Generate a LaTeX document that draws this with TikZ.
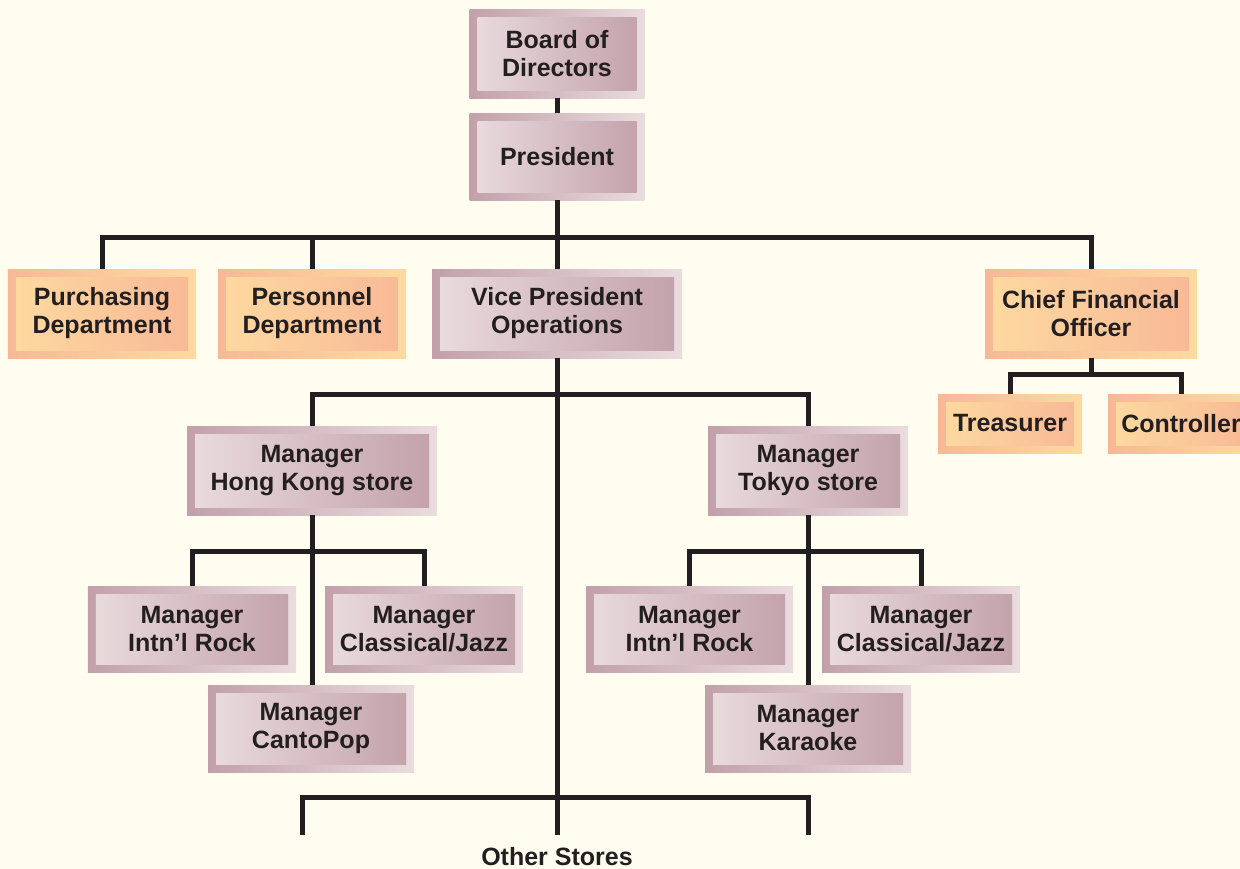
\documentclass[tikz,border=0pt]{standalone}
\usepackage{fontspec}
\setmainfont{Liberation Sans}
\usetikzlibrary{calc,positioning}
\definecolor{bgcream}{RGB}{255,253,240}
\definecolor{inkdark}{RGB}{35,31,32}
\definecolor{mauveDark}{RGB}{194,160,170}
\definecolor{mauveLight}{RGB}{234,220,222}
\definecolor{peachDark}{RGB}{248,184,150}
\definecolor{peachLight}{RGB}{253,218,160}

\begin{document}
\begin{tikzpicture}[x=1bp,y=-1bp,
  link/.style = {draw=inkdark, line width=5bp},
  mauvebox/.style = {inner sep=0pt, align=center, text=inkdark,
    font=\fontsize{25bp}{28bp}\selectfont\bfseries,
    left color=mauveDark, right color=mauveLight,
    path picture={\shade[left color=mauveLight, right color=mauveDark]
      ($(path picture bounding box.north west)+(8,8)$) rectangle
      ($(path picture bounding box.south east)+(-8,-8)$);}},
  peachbox/.style = {mauvebox, left color=peachDark, right color=peachLight,
    path picture={\shade[left color=peachLight, right color=peachDark]
      ($(path picture bounding box.north west)+(8,8)$) rectangle
      ($(path picture bounding box.south east)+(-8,-8)$);}},
]
\useasboundingbox (0,0) rectangle (1240,869);
\fill[bgcream] (0,0) rectangle (1240,869);

%Top of the company
\node (board) at (557,54) [mauvebox, minimum width=175bp, minimum height=88bp] {Board of\\Directors};
\node (pres) at (557,156.5) [mauvebox, minimum width=175bp, minimum height=87bp] {President};

%Second level
\node (purch) at (102,313.5) [peachbox, minimum width=188bp, minimum height=89bp] {Purchasing\\Department};
\node (pers) at (312,313.5) [peachbox, minimum width=188bp, minimum height=89bp] {Personnel\\Department};
\node (vp) at (557,313.5) [mauvebox, minimum width=250bp, minimum height=89bp] {Vice President\\Operations};
\node (cfo) at (1091,313.5) [peachbox, minimum width=212bp, minimum height=89bp] {Chief Financial\\Officer};
\node (treas) at (1010,423.5) [peachbox, minimum width=144bp, minimum height=59bp] {Treasurer};
\node (contr) at (1181,423.5) [peachbox, minimum width=146bp, minimum height=59bp] {Controller};

%Stores
\node (hk) at (312,470.5) [mauvebox, minimum width=250bp, minimum height=89bp] {Manager\\Hong Kong store};
\node (tky) at (808,470.5) [mauvebox, minimum width=200bp, minimum height=89bp] {Manager\\Tokyo store};

%Departments of the stores
\node (hkrock) at (192,629) [mauvebox, minimum width=208bp, minimum height=86bp] {Manager\\Intn'l Rock};
\node (hkjazz) at (424,629) [mauvebox, minimum width=198bp, minimum height=86bp] {Manager\\Classical/Jazz};
\node (canto) at (311,728.5) [mauvebox, minimum width=206bp, minimum height=87bp] {Manager\\CantoPop};
\node (tkrock) at (689.5,629) [mauvebox, minimum width=207bp, minimum height=86bp] {Manager\\Intn'l Rock};
\node (tkjazz) at (921,629) [mauvebox, minimum width=198bp, minimum height=86bp] {Manager\\Classical/Jazz};
\node (kara) at (808,728.5) [mauvebox, minimum width=206bp, minimum height=87bp] {Manager\\Karaoke};

\node (other) at (557,857) [text=inkdark, font=\fontsize{25bp}{28bp}\selectfont\bfseries] {Other Stores};

%Junctions
\coordinate (j1) at (557,237);
\coordinate (j2) at (557,394);
\coordinate (j3) at (311,551);
\coordinate (j5) at (808,551);
\coordinate (j6) at (1091,374);
\coordinate (j4) at (557,797);
\coordinate (os1) at (302,835);
\coordinate (os3) at (808,835);

%Connectors
\draw[link] (board) -- (pres);
\draw[link] (pres) -- (j1);
\draw[link] (purch) |- (j1) -| (cfo);
\draw[link] (pers) -- (pers |- j1);
\draw[link] (j1) -- (vp);
\draw[link] (vp) -- (vp |- os1);
\draw[link] (hk) |- (j2) -| (tky);
\draw[link] (hk) -- (hk |- canto.north);
\draw[link] (hkrock) |- (j3) -| (hkjazz);
\draw[link] (tky) -- (kara);
\draw[link] (tkrock) |- (j5) -| (tkjazz);
\draw[link] (cfo) -- (j6);
\draw[link] (treas) |- (j6) -| (contr);
\draw[link] (os1) |- (j4) -| (os3);
\end{tikzpicture}
\end{document}
